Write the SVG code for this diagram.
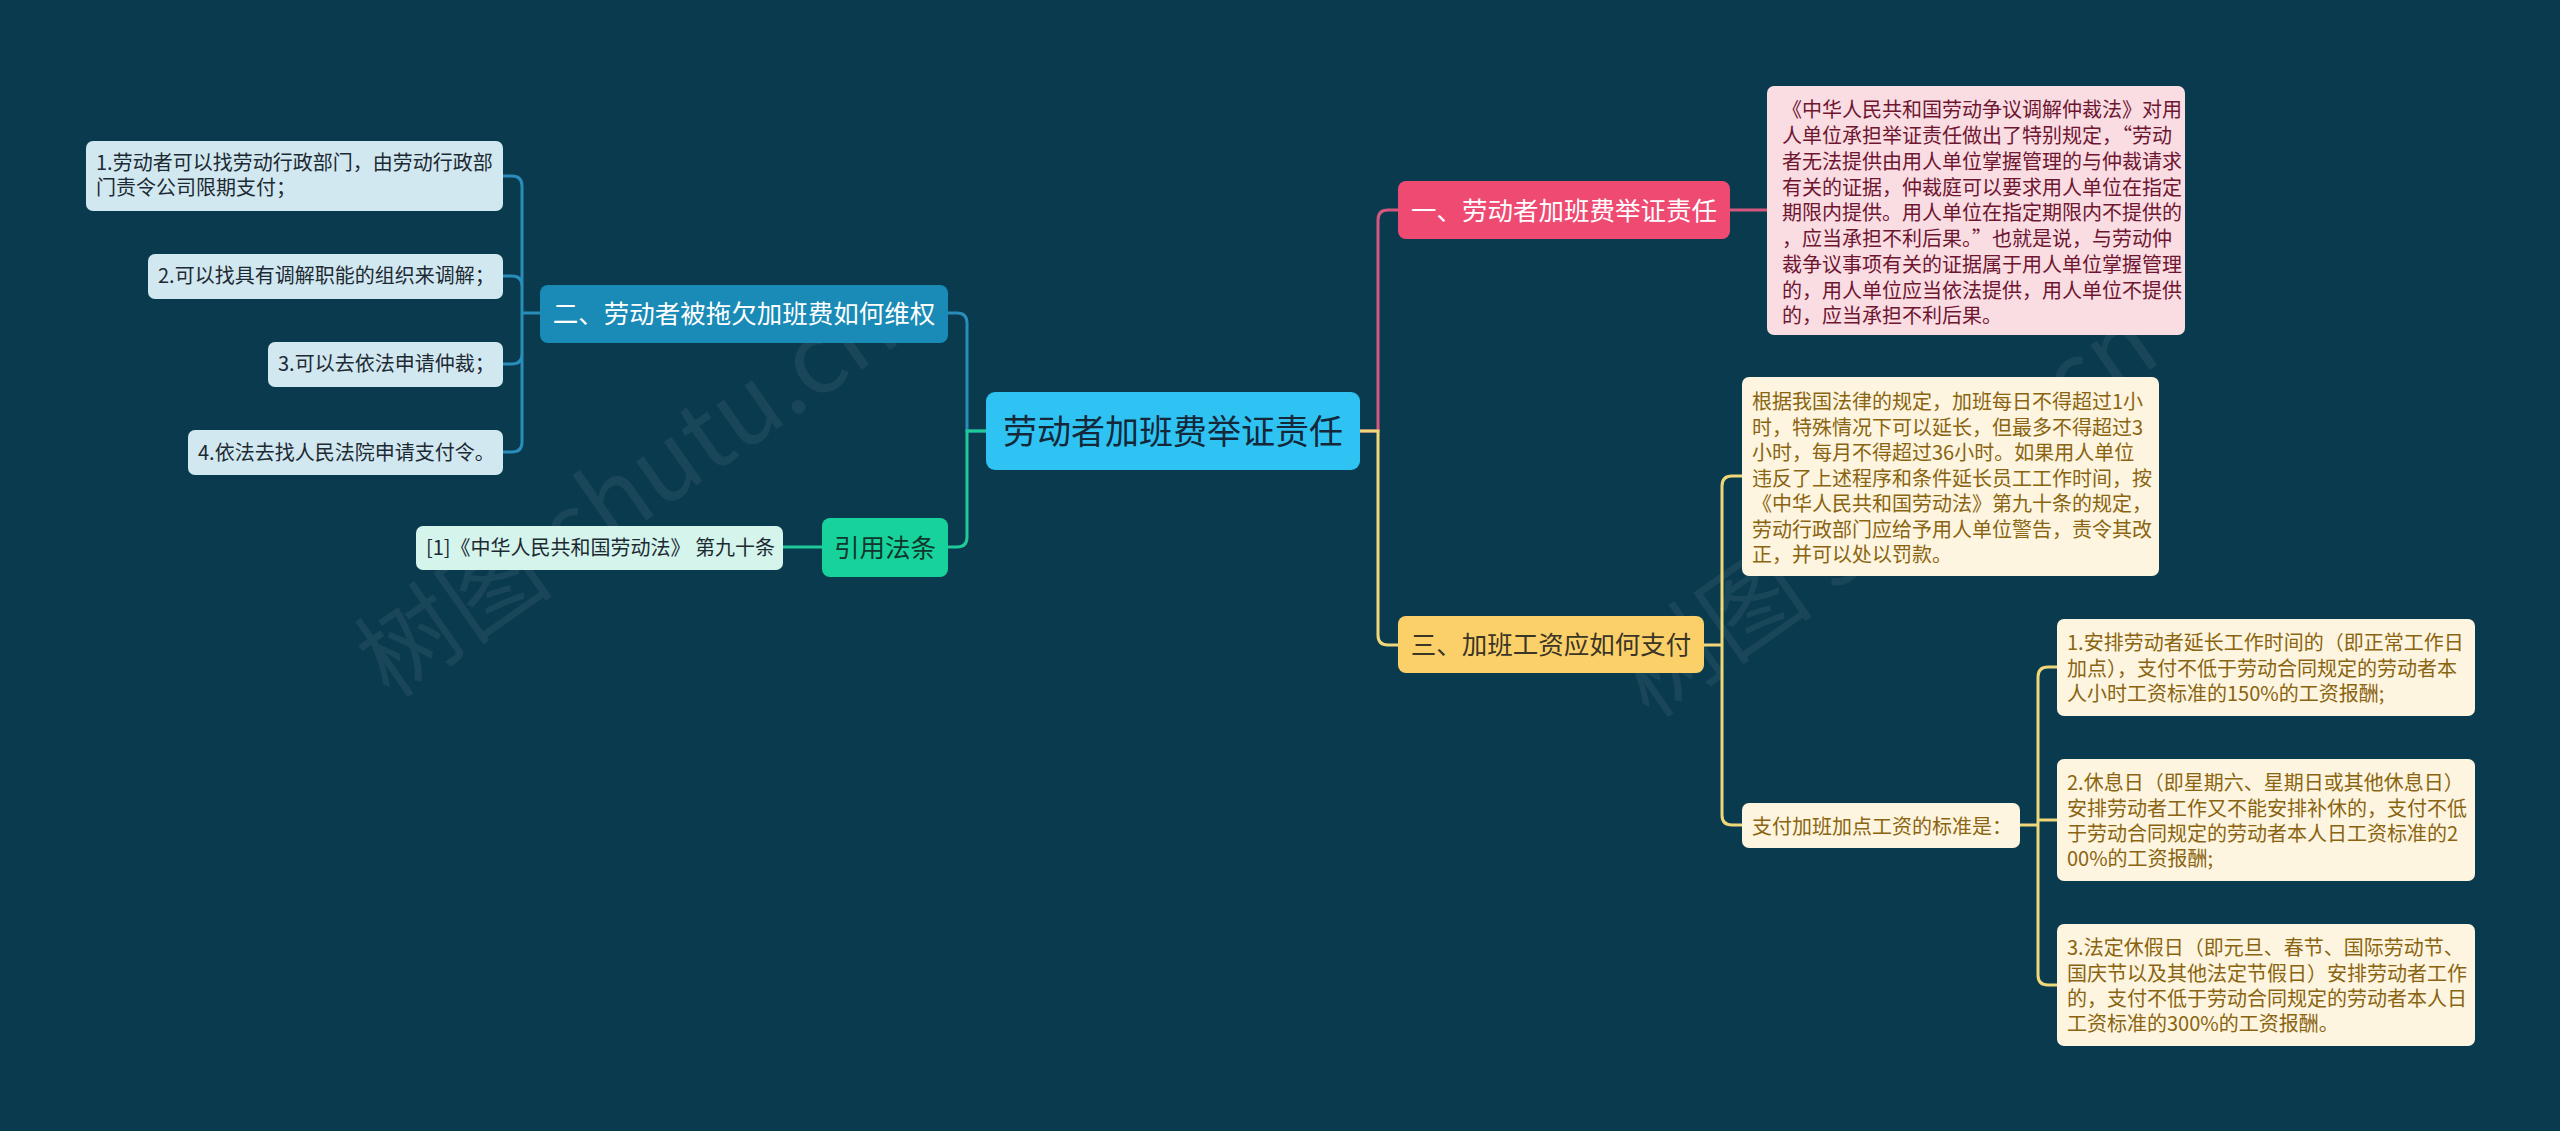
<svg xmlns="http://www.w3.org/2000/svg" width="2560" height="1131" viewBox="0 0 2560 1131">
<style>
text{font-family:"Noto Sans CJK SC","Noto Sans",sans-serif;}
.c{fill:none;stroke-width:3;}
.t20{font-size:20px;}
.big{font-size:25.5px;text-anchor:middle;}
.wm{font-size:100px;fill:#9aa4a8;opacity:0.11;}
</style>
<rect width="2560" height="1131" fill="#093a4e"/>

<g id="watermarks">
<text class="wm" transform="translate(390,700) rotate(-35)">树图 shutu.cn</text>
<text class="wm" transform="translate(1650,720) rotate(-35)">树图 shutu.cn</text>
</g>

<g id="connectors">
<path class="c" stroke="#d6577d" d="M1360,431 H1378 V220 Q1378,210 1388,210 H1398"/>
<path class="c" stroke="#f0d77a" d="M1360,431 H1378 V635 Q1378,645 1388,645 H1398"/>
<path class="c" stroke="#d6577d" d="M1730,210 H1767"/>
<path class="c" stroke="#f0d77a" d="M1704,645 H1722 M1722,645 V486 Q1722,476 1732,476 H1742 M1722,645 V815 Q1722,825 1732,825 H1742"/>
<path class="c" stroke="#f0d77a" d="M2020,825 H2038 M2038,825 V677 Q2038,667 2048,667 H2057 M2038,825 V820 H2057 M2038,825 V975 Q2038,985 2048,985 H2057"/>
<path class="c" stroke="#2a8cb8" d="M986,431 H967 V323 Q967,313 957,313 H948"/>
<path class="c" stroke="#1fca99" d="M986,431 H967 V537 Q967,547 957,547 H948"/>
<path class="c" stroke="#1fca99" d="M783,547 H822"/>
<path class="c" stroke="#2a8cb8" d="M540,313 H522 M522,313 V186 Q522,176 512,176 H503 M522,313 V286 Q522,276 512,276 H503 M522,313 V354 Q522,364 512,364 H503 M522,313 V442 Q522,452 512,452 H503"/>
</g>

<g id="root">
<rect x="986" y="392" width="374" height="78" rx="9" fill="#2ec3f2"/>
<text x="1173" y="444" font-size="34" text-anchor="middle" fill="#14283a">劳动者加班费举证责任</text>
</g>

<g id="n1">
<rect x="1398" y="181" width="332" height="58" rx="8" fill="#ee4a72"/>
<text class="big" x="1564" y="220" fill="#ffffff">一、劳动者加班费举证责任</text>
</g>

<g id="n1a">
<rect x="1767" y="86" width="418" height="249" rx="7" fill="#fadce3"/>
<g class="t20" fill="#6e1630">
<text x="1782" y="117">《中华人民共和国劳动争议调解仲裁法》对用</text>
<text x="1782" y="143">人单位承担举证责任做出了特别规定，“劳动</text>
<text x="1782" y="169">者无法提供由用人单位掌握管理的与仲裁请求</text>
<text x="1782" y="195">有关的证据，仲裁庭可以要求用人单位在指定</text>
<text x="1782" y="220">期限内提供。用人单位在指定期限内不提供的</text>
<text x="1782" y="246">，应当承担不利后果。”也就是说，与劳动仲</text>
<text x="1782" y="272">裁争议事项有关的证据属于用人单位掌握管理</text>
<text x="1782" y="298">的，用人单位应当依法提供，用人单位不提供</text>
<text x="1782" y="323">的，应当承担不利后果。</text>
</g>
</g>

<g id="n3">
<rect x="1398" y="616" width="306" height="57" rx="8" fill="#fcd068"/>
<text class="big" x="1551" y="654" fill="#3a3526">三、加班工资应如何支付</text>
</g>

<g id="n3a">
<rect x="1742" y="377" width="417" height="199" rx="7" fill="#fdf5df"/>
<g class="t20" fill="#8a6410">
<text x="1752" y="409">根据我国法律的规定，加班每日不得超过1小</text>
<text x="1752" y="435">时，特殊情况下可以延长，但最多不得超过3</text>
<text x="1752" y="460">小时，每月不得超过36小时。如果用人单位</text>
<text x="1752" y="486">违反了上述程序和条件延长员工工作时间，按</text>
<text x="1752" y="511">《中华人民共和国劳动法》第九十条的规定，</text>
<text x="1752" y="537">劳动行政部门应给予用人单位警告，责令其改</text>
<text x="1752" y="562">正，并可以处以罚款。</text>
</g>
</g>

<g id="n3b">
<rect x="1742" y="803" width="278" height="45" rx="7" fill="#fdf5df"/>
<text class="t20" x="1752" y="834" fill="#8a6410">支付加班加点工资的标准是：</text>
</g>

<g id="n3b1">
<rect x="2057" y="619" width="418" height="97" rx="7" fill="#fdf5df"/>
<g class="t20" fill="#8a6410">
<text x="2067" y="650">1.安排劳动者延长工作时间的（即正常工作日</text>
<text x="2067" y="676">加点），支付不低于劳动合同规定的劳动者本</text>
<text x="2067" y="701">人小时工资标准的150%的工资报酬;</text>
</g>
</g>

<g id="n3b2">
<rect x="2057" y="759" width="418" height="122" rx="7" fill="#fdf5df"/>
<g class="t20" fill="#8a6410">
<text x="2067" y="790">2.休息日（即星期六、星期日或其他休息日）</text>
<text x="2067" y="816">安排劳动者工作又不能安排补休的，支付不低</text>
<text x="2067" y="841">于劳动合同规定的劳动者本人日工资标准的2</text>
<text x="2067" y="866">00%的工资报酬;</text>
</g>
</g>

<g id="n3b3">
<rect x="2057" y="924" width="418" height="122" rx="7" fill="#fdf5df"/>
<g class="t20" fill="#8a6410">
<text x="2067" y="955">3.法定休假日（即元旦、春节、国际劳动节、</text>
<text x="2067" y="981">国庆节以及其他法定节假日）安排劳动者工作</text>
<text x="2067" y="1006">的，支付不低于劳动合同规定的劳动者本人日</text>
<text x="2067" y="1031">工资标准的300%的工资报酬。</text>
</g>
</g>

<g id="n2">
<rect x="540" y="285" width="408" height="58" rx="8" fill="#1a8ab6"/>
<text class="big" x="744" y="323" fill="#ffffff">二、劳动者被拖欠加班费如何维权</text>
</g>

<g id="n2a">
<rect x="86" y="141" width="417" height="70" rx="7" fill="#d2e8f1"/>
<text class="t20" x="96" y="170" fill="#1d2a33">1.劳动者可以找劳动行政部门，由劳动行政部</text>
<text class="t20" x="96" y="195" fill="#1d2a33">门责令公司限期支付；</text>
</g>
<g id="n2b">
<rect x="148" y="254" width="355" height="45" rx="7" fill="#d2e8f1"/>
<text class="t20" x="158" y="283" fill="#1d2a33">2.可以找具有调解职能的组织来调解；</text>
</g>
<g id="n2c">
<rect x="268" y="342" width="235" height="45" rx="7" fill="#d2e8f1"/>
<text class="t20" x="278" y="371" fill="#1d2a33">3.可以去依法申请仲裁；</text>
</g>
<g id="n2d">
<rect x="188" y="430" width="315" height="45" rx="7" fill="#d2e8f1"/>
<text class="t20" x="198" y="460" fill="#1d2a33">4.依法去找人民法院申请支付令。</text>
</g>

<g id="n4">
<rect x="822" y="518" width="126" height="59" rx="8" fill="#17d39b"/>
<text class="big" x="885" y="557" fill="#10362e">引用法条</text>
</g>
<g id="n4a">
<rect x="416" y="526" width="367" height="44" rx="7" fill="#d4f4ec"/>
<text class="t20" x="426" y="555" fill="#1d2a33">[1]《中华人民共和国劳动法》 第九十条</text>
</g>
</svg>
